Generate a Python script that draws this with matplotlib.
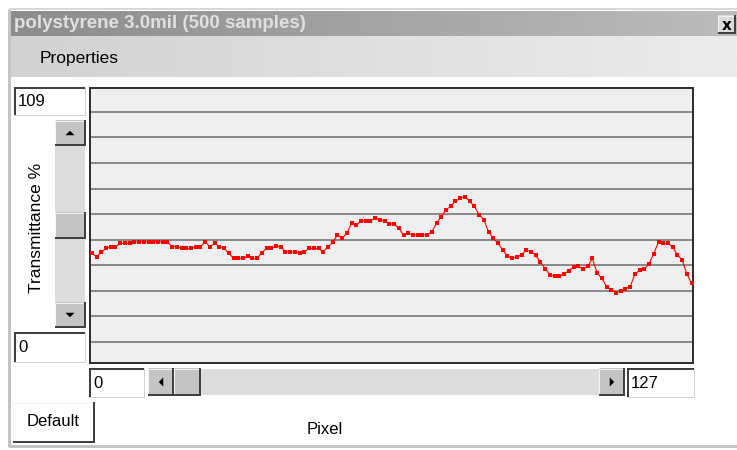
import matplotlib
matplotlib.use("Agg")
import matplotlib.pyplot as plt
import numpy as np
from matplotlib.patches import Rectangle, Polygon
from matplotlib.colors import LinearSegmentedColormap

# Spectrum readout: transmittance (%) for pixels 0..127
pixels = list(range(128))
transmittance = [
    44.6, 43.2, 45.2, 46.5, 47.2, 47.2, 48.5, 48.5, 48.5, 49.1,
    49.1, 49.1, 49.1, 49.1, 49.1, 49.1, 49.1, 47.2, 47.2, 46.5,
    46.5, 46.5, 47.2, 47.2, 49.1, 47.2, 48.5, 47.2, 46.5, 44.6,
    42.6, 42.6, 42.6, 43.5, 42.6, 42.6, 44.9, 46.5, 46.5, 47.4,
    47.2, 45.2, 45.2, 45.2, 44.6, 45.2, 46.5, 46.5, 46.5, 45.2,
    47.2, 48.9, 51.8, 50.5, 52.5, 56.4, 55.7, 57.4, 57.4, 57.4,
    58.3, 57.7, 57.4, 56.1, 56.1, 54.5, 51.8, 52.5, 51.8, 51.8,
    51.8, 51.8, 53.1, 56.5, 59.0, 61.5, 63.2, 65.0, 66.2, 66.8,
    65.0, 63.0, 59.8, 57.8, 53.0, 50.5, 48.5, 46.0, 43.5, 42.8,
    43.2, 44.0, 45.8, 45.2, 43.8, 41.2, 38.6, 36.2, 35.6, 35.6,
    36.5, 37.8, 39.3, 39.5, 38.3, 39.5, 42.6, 36.8, 34.8, 31.5,
    30.4, 29.2, 29.8, 30.8, 31.5, 36.5, 38.0, 38.5, 40.5, 44.5,
    49.1, 48.5, 48.5, 47.0, 44.0, 42.0, 36.5, 32.8,
]
grid_levels = [10, 20, 30, 40, 50, 60, 70, 80, 90, 100]

title = "polystyrene 3.0mil (500 samples)"
menu_label = "Properties"
y_label = "Transmittance %"
x_label = "Pixel"
y_min_text, y_max_text = "0", "109"
x_min_text, x_max_text = "0", "127"
button_text = "Default"

W, H = 737, 450
PX = 0.72  # one pixel in points at dpi 100
DARK = "#404040"
FACE = "#c4c4c4"
LIGHT = "#f4f4f4"
UI_FONT = "Liberation Sans"

fig = plt.figure(figsize=(W / 100, H / 100), dpi=100)
fig.patch.set_facecolor("white")
bg = fig.add_axes([0, 0, 1, 1])
bg.axis("off")


def hline(x0, x1, y, color, lw=1):
    bg.plot([x0, x1], [y, y], color=color, lw=lw * PX, solid_capstyle="butt")


def vline(x, y0, y1, color, lw=1):
    bg.plot([x, x], [y0, y1], color=color, lw=lw * PX, solid_capstyle="butt")


def sunken_box(x0, y0, x1, y1, text):
    bg.add_patch(Rectangle((x0, y0), x1 - x0, y1 - y0, facecolor="white", edgecolor="none"))
    hline(x0, x1, y0 + 1, DARK, 2)
    vline(x0 + 1, y0, y1, DARK, 2)
    hline(x0, x1, y1, "#d0d0d0", 1)
    vline(x1, y0, y1, "#d0d0d0", 1)
    bg.text(x0 + 4, (y0 + y1) / 2 + 1, text, fontsize=12, va="center", ha="left",
            family=UI_FONT, color="black")


def raised_button(x0, y0, x1, y1, face=FACE):
    bg.add_patch(Rectangle((x0, y0), x1 - x0, y1 - y0, facecolor=face, edgecolor="none"))
    hline(x0, x1, y0 + 0.5, LIGHT, 1)
    vline(x0 + 0.5, y0, y1, LIGHT, 1)
    hline(x0, x1, y1 - 1, DARK, 2)
    vline(x1 - 1, y0, y1, DARK, 2)


def arrow(cx, cy, direction, s=4.5):
    if direction == "up":
        pts = [(cx - s, cy + s / 2), (cx + s, cy + s / 2), (cx, cy - s / 2)]
    elif direction == "down":
        pts = [(cx - s, cy - s / 2), (cx + s, cy - s / 2), (cx, cy + s / 2)]
    elif direction == "left":
        pts = [(cx + s / 2, cy - s), (cx + s / 2, cy + s), (cx - s / 2, cy)]
    else:
        pts = [(cx - s / 2, cy - s), (cx - s / 2, cy + s), (cx + s / 2, cy)]
    bg.add_patch(Polygon(pts, closed=True, facecolor="black", edgecolor="none"))


# window frame
vline(9, 9, 447, "#c4c4c4", 3)
hline(9, W, 9, "#d8d8d8", 2)
hline(9, W, 446, "#c4c4c4", 3)

# title bar and menu bar gradients
title_cmap = LinearSegmentedColormap.from_list("t", ["#8c8c8c", "#bcbcbc"])
menu_cmap = LinearSegmentedColormap.from_list("m", ["#d2d2d2", "#ececec"])
grad = np.linspace(0, 1, 256)[None, :]
bg.imshow(grad, extent=[11, W, 36, 11], cmap=title_cmap, aspect="auto", interpolation="bilinear")
bg.imshow(grad, extent=[11, W, 77, 36], cmap=menu_cmap, aspect="auto", interpolation="bilinear")
bg.text(14, 24, title, fontsize=13.5, fontweight="bold", color="#e0e0e0",
        va="center", ha="left", family=UI_FONT)
bg.text(40, 58, menu_label, fontsize=12.5, color="black", va="center", ha="left",
        family=UI_FONT)

# close button
raised_button(718, 15, 736, 34, face="#dadada")
bg.text(727, 25, "x", fontsize=11, fontweight="bold", color="black", va="center",
        ha="center", family="DejaVu Sans")

# vertical scroll bar (left)
sunken_box(14, 87, 85, 115, y_max_text)
bg.add_patch(Rectangle((55, 145), 30, 157, facecolor="#dcdcdc", edgecolor="none"))
raised_button(55, 120, 86, 146)
arrow(70, 133, "up")
raised_button(55, 212, 86, 239)
raised_button(55, 302, 86, 328)
arrow(70, 315, "down")
sunken_box(14, 332, 85, 362, y_min_text)
bg.text(37, 228, y_label, fontsize=12.5, rotation=90, va="center", ha="center",
        family=UI_FONT, color="black")

# horizontal scroll bar (bottom)
sunken_box(89, 368, 144, 397, x_min_text)
bg.add_patch(Rectangle((200, 369), 400, 26, facecolor="#dcdcdc", edgecolor="none"))
raised_button(148, 368, 174, 396)
arrow(161, 382, "left")
raised_button(174, 368, 201, 396)
raised_button(599, 368, 625, 396)
arrow(612, 382, "right")
sunken_box(627, 368, 694, 397, x_max_text)

# Default button and x label
raised_button(13, 402, 95, 443, face="white")
bg.text(53, 422, button_text, fontsize=12, va="center", ha="center",
        family=UI_FONT, color="black")
bg.text(325, 430, x_label, fontsize=12, va="center", ha="center",
        family=UI_FONT, color="black")

bg.set_xlim(0, W)
bg.set_ylim(H, 0)

# plot area
ax = fig.add_axes([90 / W, (H - 363) / H, 603 / W, 275 / H])
ax.set_facecolor("#efefef")
for lvl in grid_levels:
    ax.axhline(lvl, color="#8a8a8a", lw=2 * PX, zorder=1)
ax.plot(pixels, transmittance, color="#ff0000", lw=1.1 * PX, marker="s",
        markersize=2.4, markeredgewidth=0, zorder=3)
ax.set_xlim(-0.4, 127.3)
ax.set_ylim(1.6, 109.4)
ax.set_xticks([])
ax.set_yticks([])
for sp in ax.spines.values():
    sp.set_color("#303030")
    sp.set_linewidth(2 * PX)

fig.savefig("out.png", dpi=100)
